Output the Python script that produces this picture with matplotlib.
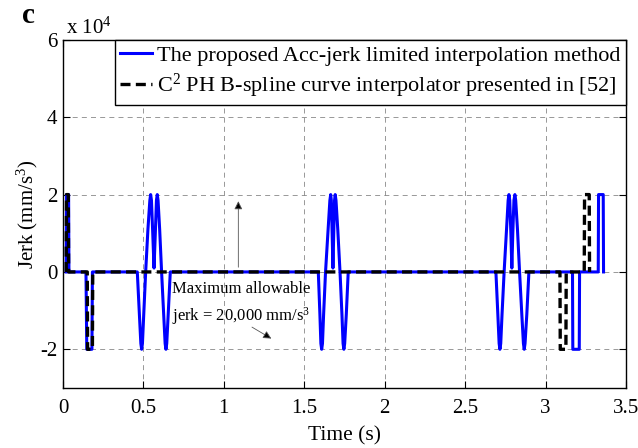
import matplotlib
matplotlib.use("Agg")
import matplotlib.pyplot as plt
from matplotlib.ticker import FuncFormatter

plt.rcParams['font.family'] = ['Liberation Serif', 'DejaVu Serif']
plt.rcParams['mathtext.fontset'] = 'custom'
plt.rcParams['mathtext.rm'] = 'Liberation Serif'
plt.rcParams['mathtext.it'] = 'Liberation Serif:italic'

# jerk profiles, time in s, jerk in mm/s^3
osc1_t = [0.462, 0.475, 0.484, 0.489, 0.494, 0.502, 0.514, 0.528, 0.540, 0.545, 0.550, 0.558, 0.566,
          0.574, 0.581, 0.586, 0.591, 0.601, 0.613, 0.626, 0.635, 0.640, 0.645, 0.654, 0.667]
osc2_t = [1.587, 1.597, 1.603, 1.608, 1.613, 1.620, 1.632, 1.648, 1.659, 1.664, 1.668, 1.673, 1.678,
          1.683, 1.688, 1.692, 1.697, 1.708, 1.722, 1.734, 1.741, 1.746, 1.751, 1.761, 1.773]
osc3_t = [2.691, 2.703, 2.711, 2.716, 2.721, 2.729, 2.742, 2.757, 2.767, 2.772, 2.777, 2.784, 2.790,
          2.796, 2.803, 2.809, 2.814, 2.825, 2.838, 2.852, 2.862, 2.867, 2.872, 2.883, 2.896]
osc_v = [0, -11000, -18500, -20000, -18500, -11000, 0, 11000, 18500, 20000, 18500, 10000, 1000,
         10000, 18500, 20000, 18500, 11000, 0, -11000, -18500, -20000, -18500, -11000, 0]

start_t = [0.020, 0.022, 0.035, 0.037, 0.143, 0.148, 0.180, 0.183]
start_v = [0, 20000, 20000, 0, 0, -20000, -20000, 0]
end_t = [3.167, 3.169, 3.209, 3.211, 3.327, 3.329, 3.358, 3.360]
end_v = [0, -20000, -20000, 0, 0, 20000, 20000, 0]

proposed_t = start_t + osc1_t + osc2_t + osc3_t + end_t
proposed_v = start_v + osc_v + osc_v + osc_v + end_v

ph_t = [0.020, 0.022, 0.033, 0.035, 0.151, 0.153, 0.183, 0.185,
        3.089, 3.091, 3.126, 3.128, 3.240, 3.242, 3.271, 3.273]
ph_v = [0, 20000, 20000, 0, 0, -20000, -20000, 0,
        0, -20000, -20000, 0, 0, 20000, 20000, 0]

fig = plt.figure(figsize=(6.38, 4.48), dpi=100)
ax = fig.add_axes([0.0987, 0.134, 0.8826, 0.777])

ax.plot(proposed_t, proposed_v, color='#0000ff', lw=2.2,
        label='The proposed Acc-jerk limited interpolation method')
ax.plot(ph_t, ph_v, color='black', lw=2.4, ls=(0, (3, 1.6)),
        label='C$^2$ PH B-spline curve interpolator presented in [52]')

ax.set_xlim(0, 3.5)
ax.set_ylim(-30000, 60000)
ax.set_xticks([0, 0.5, 1, 1.5, 2, 2.5, 3, 3.5])
ax.set_xticklabels(['0', '0.5', '1', '1.5', '2', '2.5', '3', '3.5'])
ax.set_yticks([-20000, 0, 20000, 40000, 60000])
ax.yaxis.set_major_formatter(FuncFormatter(lambda v, p: '%d' % round(v / 1e4)))
ax.tick_params(direction='in', top=True, right=True, labelsize=15, length=5, width=0.8)
ax.tick_params(axis='x', pad=8)
ax.tick_params(axis='y', pad=4)
ax.grid(True, color='#888888', ls=(0, (6, 5)), lw=0.6)
for s in ax.spines.values():
    s.set_linewidth(1.0)

ax.set_xlabel('Time (s)', fontsize=15.5, labelpad=6)
ax.set_ylabel('Jerk (mm/s$^3$)', fontsize=15, labelpad=0)

leg = ax.legend(loc='upper right', fontsize=16, frameon=True, fancybox=False,
                handlelength=1.4, handletextpad=0.25, borderaxespad=0, borderpad=0.25,
                labelspacing=0.25)
leg.get_frame().set_edgecolor('black')
leg.get_frame().set_linewidth(1.0)
leg.get_frame().set_alpha(1)

ax.text(0.68, -8300, 'Maximum allowable\njerk = 20,000 mm/s$^3$', fontsize=12,
        va='center', ha='left', linespacing=1.5)
ax.annotate('', xy=(1.09, 19000), xytext=(1.09, 500),
            arrowprops=dict(arrowstyle='-|>', color='#555555', lw=0.6,
                            mutation_scale=12, fc='black'))
ax.annotate('', xy=(1.31, -17600), xytext=(1.16, -13900),
            arrowprops=dict(arrowstyle='-|>', color='#555555', lw=0.6,
                            mutation_scale=12, fc='black'))

fig.text(0.104, 0.925, 'x 10$^4$', fontsize=15, ha='left', va='baseline')
fig.text(0.034, 0.949, 'c', fontsize=21, fontweight='bold', ha='left', va='baseline')

fig.savefig('out.png', dpi=100)
